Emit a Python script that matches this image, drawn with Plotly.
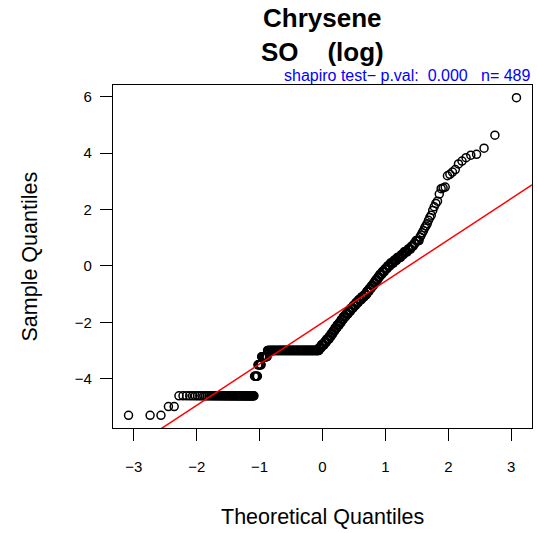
import numpy as np
import plotly.graph_objects as go
from statistics import NormalDist

# sample quantiles (log scale): value levels and how many points sit on each
low_vals = [-5.30, -4.99, -4.61, -3.91, -3.51, -3.22, -3.00]
low_counts = [3, 2, 63, 6, 7, 12, 141]

mid_vals = [-2.9, -2.8, -2.7, -2.6, -2.5, -2.4, -2.3, -2.2, -2.1, -2.0,
            -1.9, -1.8, -1.7, -1.6, -1.5, -1.4, -1.3, -1.2, -1.1, -1.02,
            -0.9, -0.8, -0.7, -0.6, -0.5, -0.4, -0.3, -0.2, -0.1, 0.0,
            0.1, 0.2, 0.3, 0.4, 0.5, 0.6, 0.7, 0.8, 0.9]
mid_counts = [7, 9, 7, 8, 6, 6, 6, 6, 7, 6,
              6, 7, 7, 7, 7, 7, 7, 8, 7, 6,
              6, 5, 5, 4, 5, 4, 5, 5, 5, 5,
              6, 5, 6, 4, 5, 4, 3, 2, 4]

# single points in the upper tail
upper_tail = [1.03, 1.10, 1.18, 1.25, 1.35, 1.42, 1.50, 1.62, 1.72, 1.80,
              1.97, 2.10, 2.22, 2.30, 2.55, 2.74, 2.77, 2.80, 3.20, 3.25,
              3.33, 3.42, 3.62, 3.72, 3.84, 3.93, 3.96, 4.18, 4.64, 5.97]

x_ticks = [-3, -2, -1, 0, 1, 2, 3]
y_ticks = [-4, -2, 0, 2, 4, 6]

sample = np.sort(np.concatenate([
    np.repeat(low_vals, low_counts),
    np.repeat(mid_vals, mid_counts),
    np.array(upper_tail),
]))
n = len(sample)

# theoretical quantiles like R's qqnorm (ppoints, a = 0.5)
nd = NormalDist()
theo = np.array([nd.inv_cdf((i - 0.5) / n) for i in range(1, n + 1)])

# qqline through the quartiles
q1, q3 = np.quantile(sample, [0.25, 0.75])
z1, z3 = nd.inv_cdf(0.25), nd.inv_cdf(0.75)
slope = (q3 - q1) / (z3 - z1)
intercept = q1 - slope * z1


def padded(a):
    lo, hi = float(np.min(a)), float(np.max(a))
    d = 0.04 * (hi - lo)
    return [lo - d, hi + d]


xr = padded(theo)
yr = padded(sample)

FONT = "Liberation Sans, Arial, Helvetica, sans-serif"

fig = go.Figure()
fig.add_trace(go.Scatter(
    x=theo, y=sample, mode="markers",
    marker=dict(symbol="circle-open", size=8, color="black", line=dict(width=1.5, color="black")),
    hoverinfo="skip", showlegend=False,
))
fig.add_trace(go.Scatter(
    x=xr, y=[intercept + slope * v for v in xr], mode="lines",
    line=dict(color="red", width=1.5), hoverinfo="skip", showlegend=False,
))

axis_common = dict(
    showgrid=False, zeroline=False, showline=True, mirror=True,
    linecolor="black", linewidth=1.2, ticks="outside", ticklen=12,
    tickwidth=1.3, tickcolor="black", automargin=False,
    tickfont=dict(family=FONT, size=15, color="black"),
)
fig.update_xaxes(range=xr, tickvals=x_ticks, ticklabelstandoff=13, **axis_common)
fig.update_yaxes(range=yr, tickvals=y_ticks, ticklabelstandoff=5, **axis_common)

fig.update_layout(
    width=537, height=533,
    margin=dict(l=113, r=5, t=85, b=105, autoexpand=False),
    plot_bgcolor="white", paper_bgcolor="white",
    font=dict(family=FONT, color="black"),
    annotations=[
        dict(text="<b>Chrysene</b>", xref="paper", yref="paper", x=0.5, y=1.0,
             yanchor="middle", yshift=67, showarrow=False, font=dict(size=26)),
        dict(text="<b>SO\u00a0\u00a0\u00a0\u00a0(log)</b>", xref="paper", yref="paper", x=0.5, y=1.0,
             yanchor="middle", yshift=33, showarrow=False, font=dict(size=26)),
        dict(text="shapiro test\u2212 p.val:\u00a0\u00a00.000\u00a0\u00a0\u00a0n= %d" % n,
             xref="paper", yref="paper", x=1.0, y=1.0, xanchor="right", yanchor="middle",
             yshift=10, showarrow=False, font=dict(size=16, color="blue")),
        dict(text="Theoretical Quantiles", xref="paper", yref="paper", x=0.5, y=0.0,
             yanchor="middle", yshift=-89, showarrow=False, font=dict(size=21.5)),
        dict(text="Sample Quantiles", xref="paper", yref="paper", x=0.0, y=0.5,
             xanchor="center", yanchor="middle", xshift=-84, textangle=-90,
             showarrow=False, font=dict(size=21.5)),
    ],
)

fig.write_html("out.html", config={"displayModeBar": False},
               post_script="document.body.style.margin='0';")
